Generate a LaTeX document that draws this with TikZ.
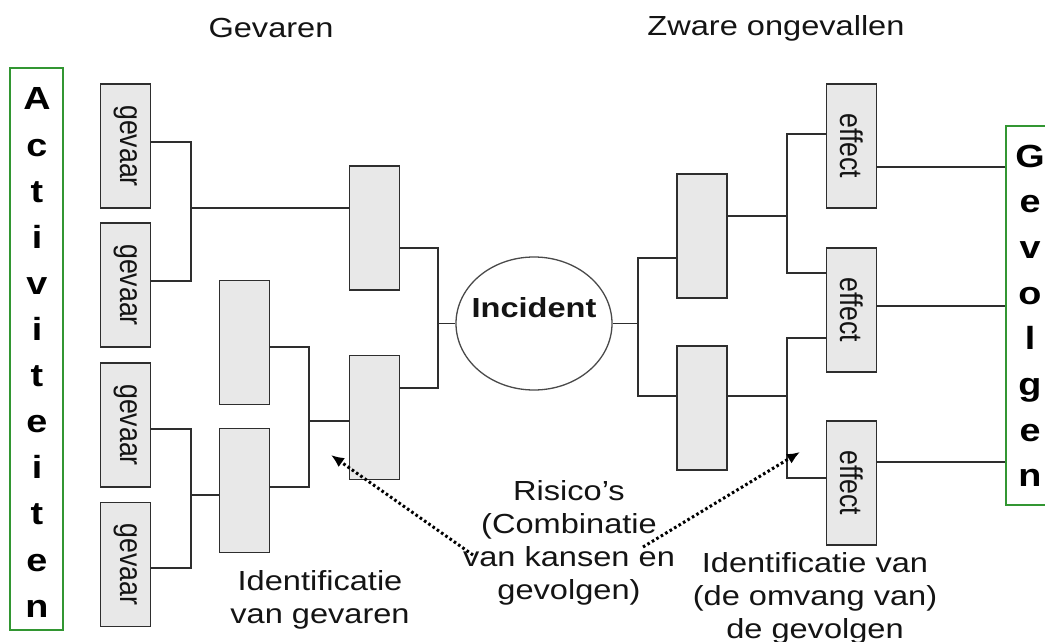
\documentclass[tikz,border=0pt]{standalone}
\usepackage{fontspec}
\setmainfont{Liberation Sans}[FakeStretch=1.18]
\newfontfamily\rotfont{Liberation Sans}[FakeStretch=0.85]
\usetikzlibrary{shapes.geometric,arrows.meta,calc}

\definecolor{boxfill}{HTML}{E8E8E8}
\definecolor{boxline}{HTML}{2E2E2E}
\definecolor{inkc}{HTML}{141414}
\definecolor{frameg}{RGB}{50,150,50}
\definecolor{ovalline}{HTML}{4A4A4A}

\tikzset{
  blok/.style={draw=boxline, fill=boxfill, line width=1.7pt,
    minimum width=50pt, minimum height=124pt, inner sep=0pt, outer sep=0pt},
  vlabel/.style={rotate=-90, font=\rotfont\fontsize{31.4}{36}\selectfont, text=inkc},
  link/.style={draw=boxline, line width=1.6pt},
  caption/.style={font=\fontsize{27.6}{33}\selectfont, text=inkc, align=center},
  bigletter/.style={font=\bfseries\fontsize{32}{38}\selectfont, text=black, inner sep=0pt},
  frame/.style={draw=frameg, line width=1.4pt, inner sep=0pt},
  hint/.style={draw=black, line width=3pt, dash pattern=on 2.6pt off 2.6pt,
    -{Latex[length=13pt,width=11pt]}}
}

\begin{document}
\begin{tikzpicture}[x=1pt,y=-1pt]
\useasboundingbox (0,0) rectangle (1045,642);
\clip (0,0) rectangle (1045,642);
\fill[white] (0,0) rectangle (1045,642);

% headings
\node[caption] (hGev) at (271,28) {Gevaren};
\node[caption] (hZwa) at (776,28) {Zware ongevallen};

% side frames
\node[frame, minimum width=53pt, minimum height=562pt] (act) at (36.5,349) {};
\foreach \l [count=\k from 0] in {A,c,t,i,v,i,t,e,i,t,e,n}
  \node[bigletter, anchor=base] (act\k) at (37,{110+46.1*\k}) {\l};
\node[frame, minimum width=50pt, minimum height=379pt] (gev) at (1031,315.5) {};
\foreach \l [count=\k from 0] in {G,e,v,o,l,g,e,n}
  \node[bigletter, anchor=base] (gev\k) at (1030,{167+45.7*\k}) {\l};

% hazards
\node[blok] (g1) at (125.5,146) {}; \node[vlabel] (g1t) at (g1) {gevaar};
\node[blok] (g2) at (125.5,285) {}; \node[vlabel] (g2t) at (g2) {gevaar};
\node[blok] (g3) at (125.5,425) {}; \node[vlabel] (g3t) at (g3) {gevaar};
\node[blok] (g4) at (125.5,564.5) {}; \node[vlabel] (g4t) at (g4) {gevaar};

% intermediate boxes
\node[blok] (A) at (244.5,342.5) {};
\node[blok] (B) at (244.5,490.5) {};
\node[blok] (M1) at (374.5,228) {};
\node[blok] (M2) at (374.5,417.5) {};
\node[blok] (R1) at (702,236) {};
\node[blok] (R2) at (702,408) {};

% effects
\node[blok] (E1) at (851.5,146) {}; \node[vlabel] (E1t) at (E1) {effect};
\node[blok] (E2) at (851.5,310) {}; \node[vlabel] (E2t) at (E2) {effect};
\node[blok] (E3) at (851.5,483) {}; \node[vlabel] (E3t) at (E3) {effect};

% central event
\node[ellipse, draw=ovalline, line width=1.3pt, minimum width=156pt, minimum height=133pt,
      inner sep=0pt] (inc) at (534,323.5) {};
\node[font=\bfseries\fontsize{27.6}{33}\selectfont, text=inkc] (incT) at (534,308) {Incident};

% connection points
\coordinate (g1o) at ($(g1.north east)+(0,58)$);
\coordinate (g2o) at ($(g2.north east)+(0,58)$);
\coordinate (g3o) at ($(g3.north east)+(0,66)$);
\coordinate (g4o) at ($(g4.north east)+(0,65.5)$);
\coordinate (Ao)  at ($(A.north east)+(0,66.5)$);
\coordinate (Bi)  at ($(B.north west)+(0,66.5)$);
\coordinate (Bo)  at ($(B.north east)+(0,58.5)$);
\coordinate (M1i) at ($(M1.north west)+(0,42)$);
\coordinate (M1o) at ($(M1.north east)+(0,82)$);
\coordinate (M2i) at ($(M2.north west)+(0,65.5)$);
\coordinate (M2o) at ($(M2.north east)+(0,32.5)$);
\coordinate (R1i) at ($(R1.north west)+(0,84)$);
\coordinate (R1o) at ($(R1.north east)+(0,42)$);
\coordinate (R2i) at ($(R2.north west)+(0,50)$);
\coordinate (R2o) at ($(R2.north east)+(0,50)$);
\coordinate (E1i) at ($(E1.north west)+(0,50)$);
\coordinate (E1o) at ($(E1.north east)+(0,83)$);
\coordinate (E2a) at ($(E2.north west)+(0,25)$);
\coordinate (E2b) at ($(E2.north west)+(0,90)$);
\coordinate (E2o) at ($(E2.north east)+(0,58)$);
\coordinate (E3i) at ($(E3.north west)+(0,57)$);
\coordinate (E3o) at ($(E3.north east)+(0,41)$);

\coordinate (j1) at (191,208);
\coordinate (j2) at (191,495);
\coordinate (j3) at (309,421);
\coordinate (j4) at (438,323.5);
\coordinate (j5) at (638,323.5);
\coordinate (j6) at (787,216);
\coordinate (j7) at (787,396);

% tree connectors
\draw[link] (g1o) -| (j1) |- (g2o);
\draw[link] (j1) -- (M1i);
\draw[link] (g3o) -| (j2) |- (g4o);
\draw[link] (j2) -- (Bi);
\draw[link] (Ao) -| (j3) |- (Bo);
\draw[link] (j3) -- (M2i);
\draw[link] (M1o) -| (j4) |- (M2o);
\draw[link] (j4) -- (inc.west);
\draw[link] (inc.east) -- (j5);
\draw[link] (R1i) -| (j5) |- (R2i);
\draw[link] (E1i) -| (j6) |- (E2a);
\draw[link] (R1o) -- (j6);
\draw[link] (E2b) -| (j7) |- (E3i);
\draw[link] (R2o) -- (j7);
\draw[link] (E1o) -- (E1o -| gev.west);
\draw[link] (E2o) -- (E2o -| gev.west);
\draw[link] (E3o) -- (E3o -| gev.west);

% captions
\node[caption] (ris) at (569,543) {Risico's\\(Combinatie\\van kansen en\\gevolgen)};
\node[caption] (idL) at (320,600) {Identificatie\\van gevaren};
\node[caption] (idR) at (815,598) {Identificatie van\\(de omvang van)\\de gevolgen};

% pointers
\coordinate (pL0) at (473,555);
\coordinate (pL1) at (331,455);
\coordinate (pR0) at (643,547);
\coordinate (pR1) at (800,452);
\draw[hint] (pL0) -- (pL1);
\draw[hint] (pR0) -- (pR1);
\end{tikzpicture}
\end{document}
